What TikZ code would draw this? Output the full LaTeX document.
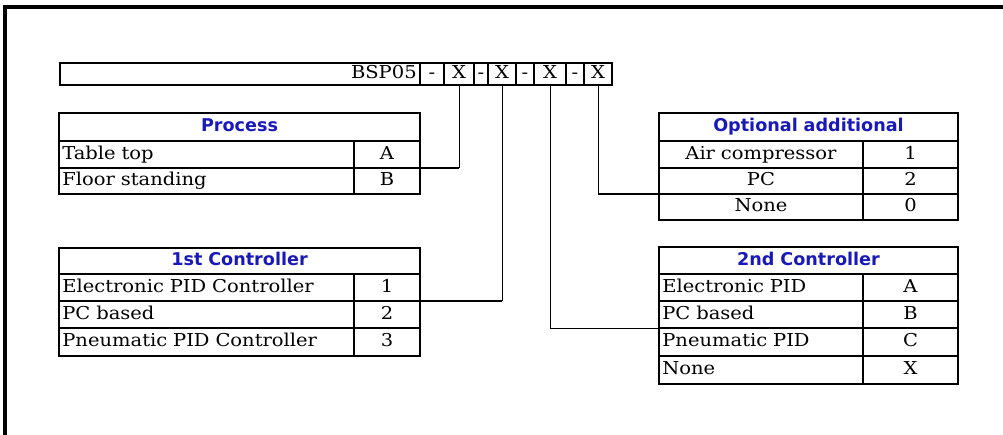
\documentclass[tikz,border=0pt]{standalone}
\usepackage{fontspec}
\setmainfont{DejaVu Serif}[FakeStretch=1.1]
\newfontfamily\headfont{DejaVu Sans}
\definecolor{headblue}{RGB}{25,25,185}
\newcommand\tcell[7]{%
  \pgfmathsetmacro\cw{(#4-#2)*0.75}%
  \pgfmathsetmacro\ch{(#5-#3)*0.75}%
  \pgfmathsetmacro\tw{(#4-#2)*0.75-5}%
  \node[cellbox,minimum width=\cw pt,minimum height=\ch pt,text width=\tw pt,#6] (#1) at ({(#2+#4)/2},{(#3+#5)/2}) {#7};}
\tikzset{
  cellbox/.style={draw,line width=1.5pt,inner xsep=2.5pt,inner ysep=0pt,outer sep=0pt,
    align=left,font=\fontsize{13.3}{15}\selectfont,text height=9.8pt,text depth=2.8pt},
  mid/.style={align=center},
  rgt/.style={align=right},
  head/.style={align=center,text=headblue,font=\headfont\bfseries\fontsize{13.2}{15}\selectfont},
  vline/.style={draw,line width=0.75pt},
  hline/.style={draw,line width=1.6pt},
  frame/.style={draw,line width=2.3pt}
}
\begin{document}
\begin{tikzpicture}[x=0.75pt,y=-0.75pt]
\useasboundingbox (0,0) rectangle (1003,435);
\draw[frame] (1003,7) -- (5,7) -- (5,435);
% code bar
\tcell{code}{60}{63}{420}{85}{rgt}{BSP05}
\tcell{d1}{420}{63}{444}{85}{mid}{-}
\tcell{x1}{444}{63}{474}{85}{mid}{X}
\tcell{d2}{474}{63}{488}{85}{mid}{-}
\tcell{x2}{488}{63}{516}{85}{mid}{X}
\tcell{d3}{516}{63}{534}{85}{mid}{-}
\tcell{x3}{534}{63}{566}{85}{mid}{X}
\tcell{d4}{566}{63}{584}{85}{mid}{-}
\tcell{x4}{584}{63}{612}{85}{mid}{X}
% Process
\tcell{ph}{59}{113}{420}{141}{head}{Process}
\tcell{p1l}{59}{141}{354}{168}{}{Table top}
\tcell{p1v}{354}{141}{420}{168}{mid}{A}
\tcell{p2l}{59}{168}{354}{194}{}{Floor standing}
\tcell{p2v}{354}{168}{420}{194}{mid}{B}
% 1st controller
\tcell{ch}{59}{248}{420}{274}{head}{1st Controller}
\tcell{c1l}{59}{274}{354}{301}{}{Electronic PID Controller}
\tcell{c1v}{354}{274}{420}{301}{mid}{1}
\tcell{c2l}{59}{301}{354}{328}{}{PC based}
\tcell{c2v}{354}{301}{420}{328}{mid}{2}
\tcell{c3l}{59}{328}{354}{356}{}{Pneumatic PID Controller}
\tcell{c3v}{354}{328}{420}{356}{mid}{3}
% Optional additional
\tcell{oh}{659}{113}{958}{141}{head}{Optional additional}
\tcell{o1l}{659}{141}{863}{168}{mid}{Air compressor}
\tcell{o1v}{863}{141}{958}{168}{mid}{1}
\tcell{o2l}{659}{168}{863}{194}{mid}{PC}
\tcell{o2v}{863}{168}{958}{194}{mid}{2}
\tcell{o3l}{659}{194}{863}{220}{mid}{None}
\tcell{o3v}{863}{194}{958}{220}{mid}{0}
% 2nd controller
\tcell{sh}{659}{247}{958}{274}{head}{2nd Controller}
\tcell{s1l}{659}{274}{863}{301}{}{Electronic PID}
\tcell{s1v}{863}{274}{958}{301}{mid}{A}
\tcell{s2l}{659}{301}{863}{328}{}{PC based}
\tcell{s2v}{863}{301}{958}{328}{mid}{B}
\tcell{s3l}{659}{328}{863}{356}{}{Pneumatic PID}
\tcell{s3v}{863}{328}{958}{356}{mid}{C}
\tcell{s4l}{659}{356}{863}{384}{}{None}
\tcell{s4v}{863}{356}{958}{384}{mid}{X}
% connectors
\draw[vline] (x1.south) -- (x1.south |- p1v.south east);
\draw[hline] (x1.south |- p1v.south east) -- (p1v.south east);
\draw[vline] (x2.south) -- (x2.south |- c1v.south east);
\draw[hline] (x2.south |- c1v.south east) -- (c1v.south east);
\draw[vline] (x3.south) -- (x3.south |- s2l.south west) -- (s2l.south west);
\draw[vline] (x4.south) -- (x4.south |- o2l.south west);
\draw[hline] (x4.south |- o2l.south west) -- (o2l.south west);
\end{tikzpicture}
\end{document}
